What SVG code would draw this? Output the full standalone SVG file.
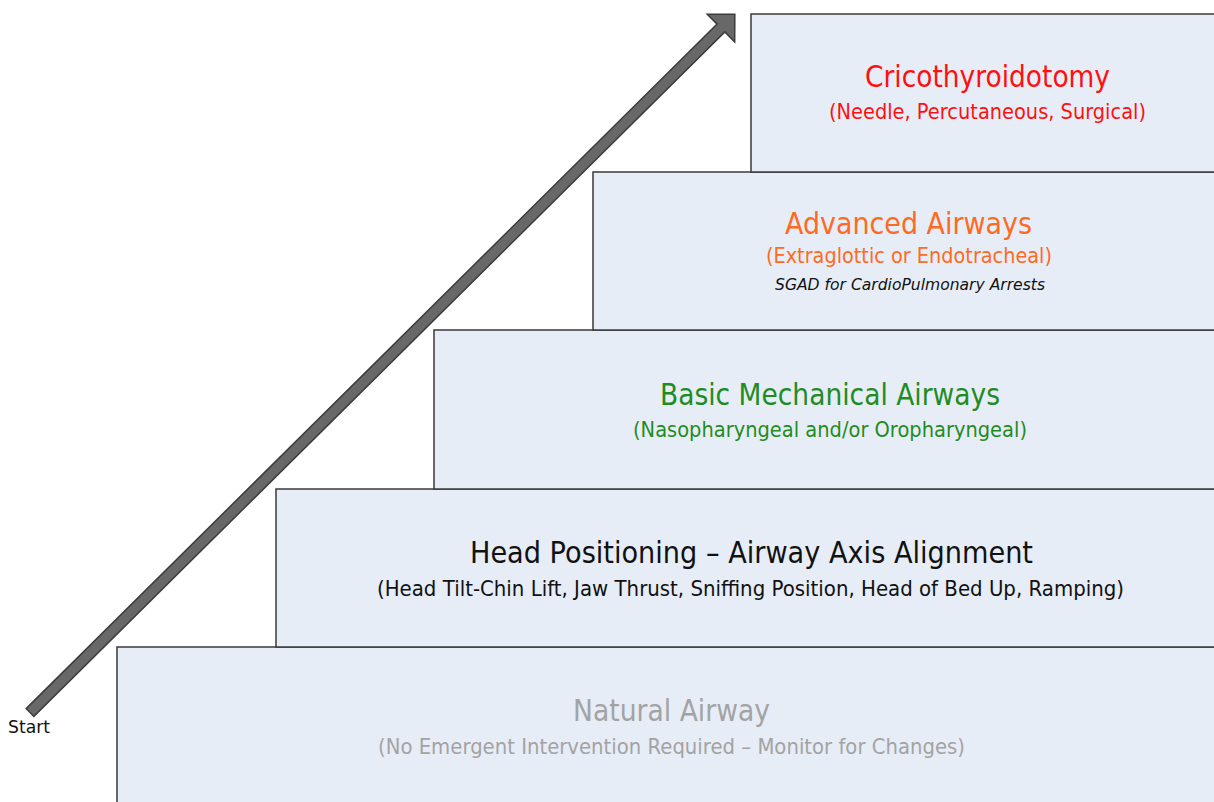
<svg xmlns="http://www.w3.org/2000/svg" width="1214" height="802" viewBox="0 0 1214 802">
<style>
.box{fill:#E7EDF7;stroke:#3a3a3a;stroke-width:1.5}
text{font-family:"DejaVu Sans","Liberation Sans",sans-serif}
.t{font-size:30px}
.s{font-size:21px}
.i{font-size:16px;font-style:italic;fill:#111}
.red{fill:#FF1010}
.org{fill:#FF6A22}
.grn{fill:#1F8C1F}
.blk{fill:#111}
.gry{fill:#A3A3A3}
</style>
<rect width="1214" height="802" fill="#FFFFFF"/>
<g id="natural">
<rect class="box" x="117" y="647" width="1110" height="170"/>
<text class="t gry" x="573" y="721" textLength="197" lengthAdjust="spacingAndGlyphs">Natural Airway</text>
<text class="s gry" x="378" y="754" textLength="587" lengthAdjust="spacingAndGlyphs">(No Emergent Intervention Required – Monitor for Changes)</text>
</g>
<g id="head">
<rect class="box" x="276" y="489" width="950" height="158"/>
<text class="t blk" x="470" y="563" textLength="563" lengthAdjust="spacingAndGlyphs">Head Positioning – Airway Axis Alignment</text>
<text class="s blk" x="377" y="596" textLength="747" lengthAdjust="spacingAndGlyphs">(Head Tilt-Chin Lift, Jaw Thrust, Sniffing Position, Head of Bed Up, Ramping)</text>
</g>
<g id="basic">
<rect class="box" x="434" y="330" width="790" height="159"/>
<text class="t grn" x="660" y="405" textLength="340" lengthAdjust="spacingAndGlyphs">Basic Mechanical Airways</text>
<text class="s grn" x="633" y="437" textLength="394" lengthAdjust="spacingAndGlyphs">(Nasopharyngeal and/or Oropharyngeal)</text>
</g>
<g id="advanced">
<rect class="box" x="593" y="172" width="630" height="158"/>
<text class="t org" x="785" y="234" textLength="247" lengthAdjust="spacingAndGlyphs">Advanced Airways</text>
<text class="s org" x="766" y="263" textLength="286" lengthAdjust="spacingAndGlyphs">(Extraglottic or Endotracheal)</text>
<text class="i" x="775" y="290" textLength="270" lengthAdjust="spacingAndGlyphs">SGAD for CardioPulmonary Arrests</text>
</g>
<g id="crico">
<rect class="box" x="751" y="14" width="470" height="158"/>
<text class="t red" x="865" y="87" textLength="245" lengthAdjust="spacingAndGlyphs">Cricothyroidotomy</text>
<text class="s red" x="829" y="119" textLength="317" lengthAdjust="spacingAndGlyphs">(Needle, Percutaneous, Surgical)</text>
</g>
<g id="connectors">
<polygon transform="translate(30,712.5) rotate(-44.73)" points="0,-5.5 972.6,-5.5 972.6,-19.5 992.1,0 972.6,19.5 972.6,5.5 0,5.5" fill="#686868" stroke="#3c3c3c" stroke-width="1.5" stroke-linejoin="miter"/>
</g>
<g id="start">
<text x="8" y="733" font-size="18" fill="#111" textLength="42" lengthAdjust="spacingAndGlyphs">Start</text>
</g>
</svg>
